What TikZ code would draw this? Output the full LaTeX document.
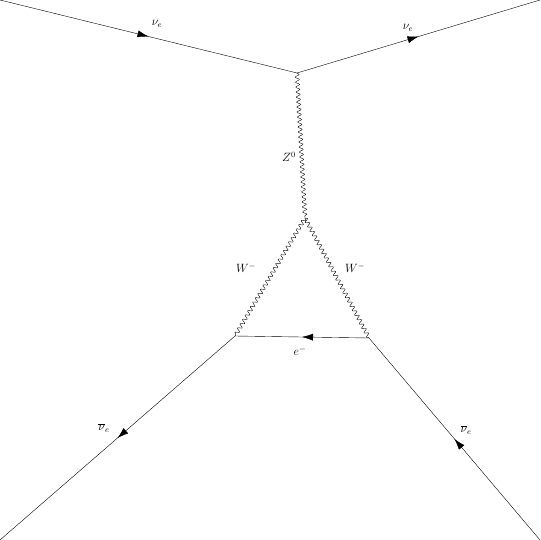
\documentclass[tikz,border=0pt]{standalone}
\usetikzlibrary{decorations.pathmorphing,decorations.markings,arrows.meta}
\tikzset{
  fermion/.style={draw,postaction={decorate},decoration={markings,mark=at position 0.5 with {\arrow{Latex[length=11pt,width=7pt]}}}},
  boson/.style={draw,decorate,decoration={snake,segment length=5pt,amplitude=2pt}},
  lbl/.style={inner sep=1pt,font=\fontsize{12}{14}\selectfont}
}
\begin{document}
\begin{tikzpicture}[x=1pt,y=-1pt]
\useasboundingbox (0,0) rectangle (540,540);
\coordinate (tl) at (0,0);
\coordinate (tr) at (540,0);
\coordinate (bl) at (0,540);
\coordinate (br) at (540,540);
\coordinate (v1) at (297,73);
\coordinate (v2) at (305,218);
\coordinate (v3) at (235,336);
\coordinate (v4) at (369,338);
\path[fermion] (tl) -- (v1);
\path[fermion] (v1) -- (tr);
\path[boson] (v1) -- (v2);
\path[boson] (v2) -- (v3);
\path[boson] (v2) -- (v4);
\path[fermion] (v4) -- (v3);
\path[fermion] (v3) -- (bl);
\path[fermion] (br) -- (v4);
\node[lbl] (n1) at (157,24) {$\nu_e$};
\node[lbl] (n2) at (408,28) {$\nu_e$};
\node[lbl] (z) at (289,157) {$Z^0$};
\node[lbl] (w1) at (246,268) {$W^-$};
\node[lbl] (w2) at (355,268) {$W^-$};
\node[lbl] (e) at (300,351) {$e^-$};
\node[lbl] (n3) at (104,428) {$\overline{\nu}_e$};
\node[lbl] (n4) at (466,430) {$\overline{\nu}_e$};
\end{tikzpicture}
\end{document}
